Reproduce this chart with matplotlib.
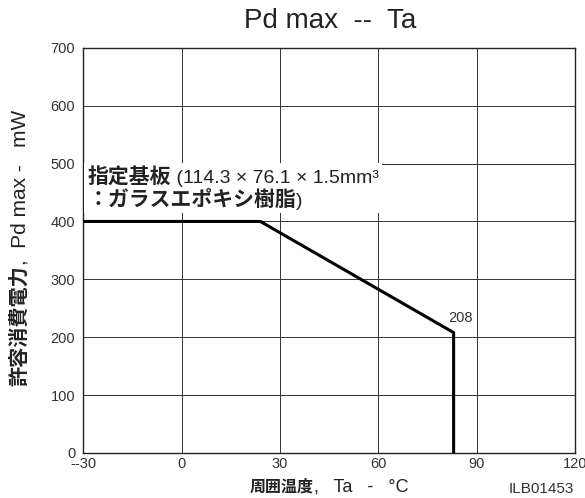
"""
Pd max -- Ta derating curve
"""

import matplotlib
matplotlib.use("Agg")
import matplotlib.pyplot as plt
from matplotlib.offsetbox import TextArea, HPacker, VPacker, AnnotationBbox

# ============================================================================
# Data
# ============================================================================
temp = [-30, 24, 83, 83]        # Ta (degC)
pd_max = [400, 400, 208, 0]     # Pd max (mW)

x_ticks = [-30, 0, 30, 60, 90, 120]
x_tick_labels = ["--30", "0", "30", "60", "90", "120"]
y_ticks = [0, 100, 200, 300, 400, 500, 600, 700]

corner_label = "208"
title = "Pd max  --  Ta"
fig_code = "ILB01453"

JP = ["Noto Sans CJK JP"]
EN = ["Liberation Sans", "Noto Sans CJK JP"]
TXT = "#222222"

fig = plt.figure(figsize=(5.85, 4.98), dpi=100)
ax = fig.add_axes([0.1427, 0.0904, 0.8399, 0.8136])

ax.plot(temp, pd_max, color="black", lw=2.2, solid_joinstyle="miter", zorder=3)

ax.set_xlim(-30, 120)
ax.set_ylim(0, 700)
ax.set_xticks(x_ticks)
ax.set_xticklabels(x_tick_labels)
ax.set_yticks(y_ticks)
ax.tick_params(length=0, labelsize=10.5, labelcolor="#333333")
ax.tick_params(axis="x", pad=3)
ax.tick_params(axis="y", pad=6)
for lab in ax.get_xticklabels() + ax.get_yticklabels():
    lab.set_family(EN)

ax.grid(True, color="#333333", lw=0.7)
ax.set_axisbelow(True)
for s in ax.spines.values():
    s.set_color("#222222")
    s.set_linewidth(1.0)

ax.text(temp[2] + 2.0, pd_max[2] + 13, corner_label, ha="center", va="bottom",
        fontsize=10.5, family=EN, color="#333333")

# board note, bold japanese + normal text
line1 = HPacker(children=[
    TextArea("指定基板", textprops=dict(family=JP, weight="bold", fontsize=15, color=TXT)),
    TextArea(" (114.3 × 76.1 × 1.5mm³", textprops=dict(family=EN, fontsize=14, color=TXT)),
], align="baseline", pad=0, sep=0)
line2 = HPacker(children=[
    TextArea("：ガラスエポキシ樹脂", textprops=dict(family=JP, weight="bold", fontsize=15, color=TXT)),
    TextArea(")", textprops=dict(family=EN, fontsize=14, color=TXT)),
], align="baseline", pad=0, sep=0)
note = VPacker(children=[line1, line2], align="left", pad=0, sep=1)
ab = AnnotationBbox(note, (-28.8, 495), xycoords="data", box_alignment=(0, 1),
                    frameon=True, pad=0.25,
                    bboxprops=dict(facecolor="white", edgecolor="none"), zorder=4)
ax.add_artist(ab)

# title
fig.text(0.565, 0.958, title, ha="center", va="center", fontsize=20,
         family=EN, color=TXT)

# x label
xlab = HPacker(children=[
    TextArea("周囲温度", textprops=dict(family=JP, weight="bold", fontsize=11.5, color=TXT)),
    TextArea(",   Ta   -   °C", textprops=dict(family=EN, fontsize=13, color=TXT)),
], align="baseline", pad=0, sep=0)
fig.add_artist(AnnotationBbox(xlab, (0.5624, 1 - 487 / 498), xycoords="figure fraction",
                              box_alignment=(0.5, 0.5), frameon=False, pad=0))

fig.text(0.982, 1 - 489 / 498, fig_code, ha="right", va="center", fontsize=11,
         family=EN, color="#333333")

# y label, rotated, two weights
yl1 = fig.text(0.032, 1 - 386 / 498, "許容消費電力", rotation=90, ha="center", va="bottom",
               fontsize=14.5, family=JP, weight="bold", color=TXT)
fig.canvas.draw()
bb = yl1.get_window_extent(fig.canvas.get_renderer())
top = bb.y1 / fig.bbox.height
fig.text(0.034, top, ",  Pd max -   mW", rotation=90, ha="center", va="bottom",
         fontsize=15, family=EN, color=TXT)

plt.savefig("out.png", dpi=100)
